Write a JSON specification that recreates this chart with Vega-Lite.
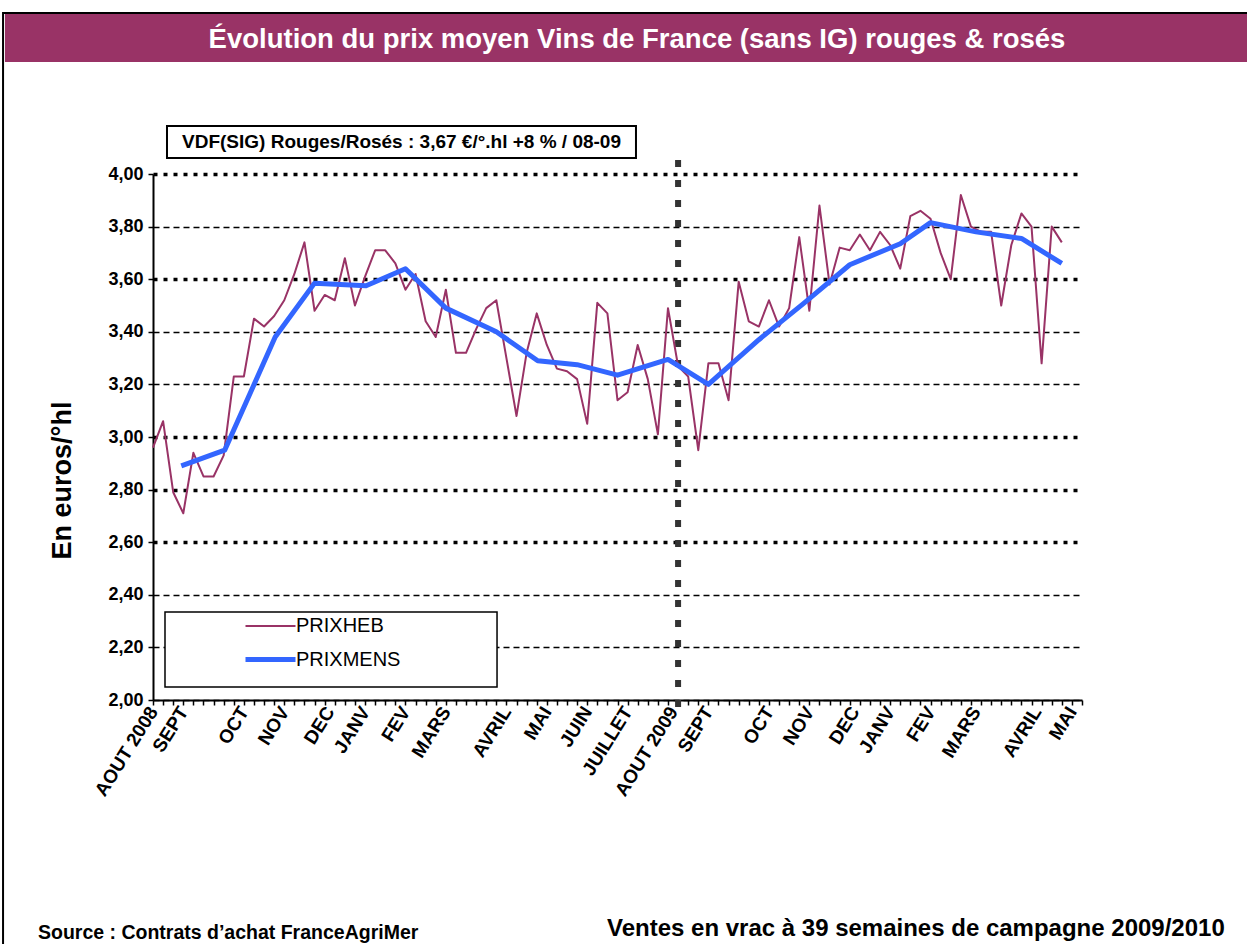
{
  "$schema": "https://vega.github.io/schema/vega-lite/v6.json",
  "width": 929,
  "height": 526,
  "autosize": {"type": "none"},
  "padding": {"left": 153, "top": 174, "right": 165, "bottom": 244},
  "background": "white",
  "config": {"view": {"stroke": null}, "font": "Liberation Sans"},
  "datasets": {
    "prix": [
      {"week": 0, "value": 2.96, "series": "PRIXHEB"},
      {"week": 1, "value": 3.06, "series": "PRIXHEB"},
      {"week": 2, "value": 2.79, "series": "PRIXHEB"},
      {"week": 3, "value": 2.71, "series": "PRIXHEB"},
      {"week": 4, "value": 2.94, "series": "PRIXHEB"},
      {"week": 5, "value": 2.85, "series": "PRIXHEB"},
      {"week": 6, "value": 2.85, "series": "PRIXHEB"},
      {"week": 7, "value": 2.93, "series": "PRIXHEB"},
      {"week": 8, "value": 3.23, "series": "PRIXHEB"},
      {"week": 9, "value": 3.23, "series": "PRIXHEB"},
      {"week": 10, "value": 3.45, "series": "PRIXHEB"},
      {"week": 11, "value": 3.42, "series": "PRIXHEB"},
      {"week": 12, "value": 3.46, "series": "PRIXHEB"},
      {"week": 13, "value": 3.52, "series": "PRIXHEB"},
      {"week": 14, "value": 3.62, "series": "PRIXHEB"},
      {"week": 15, "value": 3.74, "series": "PRIXHEB"},
      {"week": 16, "value": 3.48, "series": "PRIXHEB"},
      {"week": 17, "value": 3.54, "series": "PRIXHEB"},
      {"week": 18, "value": 3.52, "series": "PRIXHEB"},
      {"week": 19, "value": 3.68, "series": "PRIXHEB"},
      {"week": 20, "value": 3.50, "series": "PRIXHEB"},
      {"week": 21, "value": 3.61, "series": "PRIXHEB"},
      {"week": 22, "value": 3.71, "series": "PRIXHEB"},
      {"week": 23, "value": 3.71, "series": "PRIXHEB"},
      {"week": 24, "value": 3.66, "series": "PRIXHEB"},
      {"week": 25, "value": 3.56, "series": "PRIXHEB"},
      {"week": 26, "value": 3.62, "series": "PRIXHEB"},
      {"week": 27, "value": 3.44, "series": "PRIXHEB"},
      {"week": 28, "value": 3.38, "series": "PRIXHEB"},
      {"week": 29, "value": 3.56, "series": "PRIXHEB"},
      {"week": 30, "value": 3.32, "series": "PRIXHEB"},
      {"week": 31, "value": 3.32, "series": "PRIXHEB"},
      {"week": 32, "value": 3.41, "series": "PRIXHEB"},
      {"week": 33, "value": 3.49, "series": "PRIXHEB"},
      {"week": 34, "value": 3.52, "series": "PRIXHEB"},
      {"week": 35, "value": 3.30, "series": "PRIXHEB"},
      {"week": 36, "value": 3.08, "series": "PRIXHEB"},
      {"week": 37, "value": 3.32, "series": "PRIXHEB"},
      {"week": 38, "value": 3.47, "series": "PRIXHEB"},
      {"week": 39, "value": 3.35, "series": "PRIXHEB"},
      {"week": 40, "value": 3.26, "series": "PRIXHEB"},
      {"week": 41, "value": 3.25, "series": "PRIXHEB"},
      {"week": 42, "value": 3.22, "series": "PRIXHEB"},
      {"week": 43, "value": 3.05, "series": "PRIXHEB"},
      {"week": 44, "value": 3.51, "series": "PRIXHEB"},
      {"week": 45, "value": 3.47, "series": "PRIXHEB"},
      {"week": 46, "value": 3.14, "series": "PRIXHEB"},
      {"week": 47, "value": 3.17, "series": "PRIXHEB"},
      {"week": 48, "value": 3.35, "series": "PRIXHEB"},
      {"week": 49, "value": 3.22, "series": "PRIXHEB"},
      {"week": 50, "value": 3.01, "series": "PRIXHEB"},
      {"week": 51, "value": 3.49, "series": "PRIXHEB"},
      {"week": 52, "value": 3.27, "series": "PRIXHEB"},
      {"week": 53, "value": 3.23, "series": "PRIXHEB"},
      {"week": 54, "value": 2.95, "series": "PRIXHEB"},
      {"week": 55, "value": 3.28, "series": "PRIXHEB"},
      {"week": 56, "value": 3.28, "series": "PRIXHEB"},
      {"week": 57, "value": 3.14, "series": "PRIXHEB"},
      {"week": 58, "value": 3.59, "series": "PRIXHEB"},
      {"week": 59, "value": 3.44, "series": "PRIXHEB"},
      {"week": 60, "value": 3.42, "series": "PRIXHEB"},
      {"week": 61, "value": 3.52, "series": "PRIXHEB"},
      {"week": 62, "value": 3.42, "series": "PRIXHEB"},
      {"week": 63, "value": 3.49, "series": "PRIXHEB"},
      {"week": 64, "value": 3.76, "series": "PRIXHEB"},
      {"week": 65, "value": 3.48, "series": "PRIXHEB"},
      {"week": 66, "value": 3.88, "series": "PRIXHEB"},
      {"week": 67, "value": 3.58, "series": "PRIXHEB"},
      {"week": 68, "value": 3.72, "series": "PRIXHEB"},
      {"week": 69, "value": 3.71, "series": "PRIXHEB"},
      {"week": 70, "value": 3.77, "series": "PRIXHEB"},
      {"week": 71, "value": 3.71, "series": "PRIXHEB"},
      {"week": 72, "value": 3.78, "series": "PRIXHEB"},
      {"week": 73, "value": 3.73, "series": "PRIXHEB"},
      {"week": 74, "value": 3.64, "series": "PRIXHEB"},
      {"week": 75, "value": 3.84, "series": "PRIXHEB"},
      {"week": 76, "value": 3.86, "series": "PRIXHEB"},
      {"week": 77, "value": 3.83, "series": "PRIXHEB"},
      {"week": 78, "value": 3.70, "series": "PRIXHEB"},
      {"week": 79, "value": 3.60, "series": "PRIXHEB"},
      {"week": 80, "value": 3.92, "series": "PRIXHEB"},
      {"week": 81, "value": 3.80, "series": "PRIXHEB"},
      {"week": 82, "value": 3.78, "series": "PRIXHEB"},
      {"week": 83, "value": 3.78, "series": "PRIXHEB"},
      {"week": 84, "value": 3.50, "series": "PRIXHEB"},
      {"week": 85, "value": 3.73, "series": "PRIXHEB"},
      {"week": 86, "value": 3.85, "series": "PRIXHEB"},
      {"week": 87, "value": 3.80, "series": "PRIXHEB"},
      {"week": 88, "value": 3.28, "series": "PRIXHEB"},
      {"week": 89, "value": 3.80, "series": "PRIXHEB"},
      {"week": 90, "value": 3.74, "series": "PRIXHEB"},
      {"week": 2.8, "value": 2.89, "series": "PRIXMENS"},
      {"week": 7.1, "value": 2.95, "series": "PRIXMENS"},
      {"week": 12.1, "value": 3.38, "series": "PRIXMENS"},
      {"week": 16, "value": 3.585, "series": "PRIXMENS"},
      {"week": 21.1, "value": 3.575, "series": "PRIXMENS"},
      {"week": 25, "value": 3.64, "series": "PRIXMENS"},
      {"week": 29, "value": 3.49, "series": "PRIXMENS"},
      {"week": 34, "value": 3.40, "series": "PRIXMENS"},
      {"week": 38.1, "value": 3.29, "series": "PRIXMENS"},
      {"week": 42, "value": 3.275, "series": "PRIXMENS"},
      {"week": 46, "value": 3.235, "series": "PRIXMENS"},
      {"week": 51, "value": 3.295, "series": "PRIXMENS"},
      {"week": 55, "value": 3.20, "series": "PRIXMENS"},
      {"week": 60, "value": 3.37, "series": "PRIXMENS"},
      {"week": 64.5, "value": 3.51, "series": "PRIXMENS"},
      {"week": 69, "value": 3.655, "series": "PRIXMENS"},
      {"week": 74, "value": 3.735, "series": "PRIXMENS"},
      {"week": 77, "value": 3.815, "series": "PRIXMENS"},
      {"week": 81.5, "value": 3.78, "series": "PRIXMENS"},
      {"week": 86, "value": 3.755, "series": "PRIXMENS"},
      {"week": 90, "value": 3.66, "series": "PRIXMENS"}
    ]
  },
  "layer": [
    {
      "data": {"values": [{}]},
      "mark": {"type": "rect", "fill": null, "stroke": "black", "strokeWidth": 2},
      "encoding": {
        "x": {"datum": -14.85, "type": "quantitative", "scale": {"domain": [0, 92], "nice": false, "zero": false}},
        "x2": {"datum": 109},
        "y": {"datum": 4.612, "type": "quantitative", "scale": {"domain": [2, 4], "nice": false, "zero": false}},
        "y2": {"datum": 0.85}
      }
    },
    {
      "data": {"values": [{}]},
      "mark": {"type": "rect", "fill": "#993366", "stroke": null},
      "encoding": {
        "x": {"datum": -14.66, "type": "quantitative", "scale": {"domain": [0, 92], "nice": false, "zero": false}},
        "x2": {"datum": 108.6},
        "y": {"datum": 4.6084, "type": "quantitative", "scale": {"domain": [2, 4], "nice": false, "zero": false}},
        "y2": {"datum": 4.4259}
      }
    },
    {
      "data": {"values": [{}]},
      "mark": {"type": "text", "text": "Évolution du prix moyen Vins de France (sans IG) rouges & rosés", "font": "Liberation Sans", "fontSize": 27.5, "fontWeight": "bold", "color": "white", "align": "center", "baseline": "middle"},
      "encoding": {
        "x": {"datum": 47.93, "type": "quantitative", "scale": {"domain": [0, 92], "nice": false, "zero": false}},
        "y": {"datum": 4.5095, "type": "quantitative", "scale": {"domain": [2, 4], "nice": false, "zero": false}}
      }
    },
    {
      "data": {"values": [{}]},
      "mark": {"type": "rect", "fill": "white", "stroke": "black", "strokeWidth": 2},
      "encoding": {
        "x": {"datum": 1.386, "type": "quantitative", "scale": {"domain": [0, 92], "nice": false, "zero": false}},
        "x2": {"datum": 47.83},
        "y": {"datum": 4.1825, "type": "quantitative", "scale": {"domain": [2, 4], "nice": false, "zero": false}},
        "y2": {"datum": 4.0608}
      }
    },
    {
      "data": {"values": [{}]},
      "mark": {"type": "text", "text": "VDF(SIG) Rouges/Rosés : 3,67 €/°.hl +8 % / 08-09", "font": "Liberation Sans", "fontSize": 19, "fontWeight": "bold", "color": "black", "align": "center", "baseline": "middle"},
      "encoding": {
        "x": {"datum": 24.61, "type": "quantitative", "scale": {"domain": [0, 92], "nice": false, "zero": false}},
        "y": {"datum": 4.1217, "type": "quantitative", "scale": {"domain": [2, 4], "nice": false, "zero": false}}
      }
    },
    {
      "data": {"values": [{}]},
      "mark": {"type": "rect", "fill": "white", "stroke": "black", "strokeWidth": 1.5},
      "encoding": {
        "x": {"datum": 1.188, "type": "quantitative", "scale": {"domain": [0, 92], "nice": false, "zero": false}},
        "x2": {"datum": 34.07},
        "y": {"datum": 2.3346, "type": "quantitative", "scale": {"domain": [2, 4], "nice": false, "zero": false}},
        "y2": {"datum": 2.0494}
      }
    },
    {
      "data": {"values": [{}]},
      "mark": {"type": "rule", "color": "#333333", "strokeWidth": 6, "strokeDash": [7, 13]},
      "encoding": {
        "x": {"datum": 52, "type": "quantitative", "scale": {"domain": [0, 92], "nice": false, "zero": false}},
        "y": {"datum": 4.053, "type": "quantitative", "scale": {"domain": [2, 4], "nice": false, "zero": false}},
        "y2": {"datum": 1.932}
      }
    },
    {
      "data": {"name": "prix"},
      "mark": {"type": "line", "strokeJoin": "round"},
      "encoding": {
        "x": {
          "field": "week", "type": "quantitative",
          "scale": {"domain": [0, 92], "nice": false, "zero": false},
          "axis": {
            "title": null,
            "grid": false,
            "tickCount": 500,
            "values": [0,1,2,3,4,5,6,7,8,9,10,11,12,13,14,15,16,17,17.5,18,19,20,21,22,23,24,25,26,27,28,29,30,31,32,33,34,35,36,37,38,39,40,41,42,43,44,45,46,47,48,49,50,51,51.5,52,53,54,55,56,57,58,59,60,61,62,63,64,65,66,67,68,69,69.5,70,71,72,73,74,75,76,77,78,79,80,81,81.5,82,83,84,85,86,87,87.5,88,89,90,91,92],
            "labelExpr": "indexof([0,3,9,13,17.5,21,25,29,35,39,43,47,51.5,55,61,65,69.5,73,77,81.5,87.5,91], datum.value) >= 0 ? ['AOUT 2008','SEPT','OCT','NOV','DEC','JANV','FEV','MARS','AVRIL','MAI','JUIN','JUILLET','AOUT 2009','SEPT','OCT','NOV','DEC','JANV','FEV','MARS','AVRIL','MAI'][indexof([0,3,9,13,17.5,21,25,29,35,39,43,47,51.5,55,61,65,69.5,73,77,81.5,87.5,91], datum.value)] : ''",
            "labelAngle": -58,
            "labelFont": "Liberation Sans",
            "labelFontSize": 19,
            "labelFontWeight": "bold",
            "labelColor": "black",
            "labelOverlap": false,
            "labelFlush": false,
            "labelBound": false,
            "labelPadding": 3,
            "tickSize": 5,
            "tickWidth": 1.5,
            "tickColor": "black",
            "tickOpacity": {"condition": {"test": "datum.value % 1 != 0", "value": 0}, "value": 1},
            "domainColor": "black",
            "domainWidth": 2
          }
        },
        "y": {
          "field": "value", "type": "quantitative",
          "scale": {"domain": [2, 4], "nice": false, "zero": false},
          "axis": {
            "title": "En euros/°hl",
            "titleFont": "Liberation Sans",
            "titleFontSize": 27,
            "titleFontWeight": "bold",
            "titleColor": "black",
            "titleAngle": -90,
            "titleX": -91,
            "titleY": 306,
            "titleAlign": "center",
            "titleBaseline": "middle",
            "tickCount": 50,
            "values": [2, 2.2, 2.4, 2.6, 2.8, 3, 3.2, 3.4, 3.6, 3.8, 4],
            "labelExpr": "replace(format(datum.value, '.2f'), '.', ',')",
            "labelFont": "Liberation Sans",
            "labelFontSize": 18,
            "labelFontWeight": "bold",
            "labelColor": "black",
            "labelPadding": 5,
            "tickSize": 5,
            "tickWidth": 1.5,
            "tickColor": "black",
            "domainColor": "black",
            "domainWidth": 2,
            "grid": true,
            "gridColor": "black",
            "gridOpacity": 1,
            "gridDash": {"condition": {"test": "abs(datum.value-4)<0.01 || abs(datum.value-3.6)<0.01 || abs(datum.value-3)<0.01 || abs(datum.value-2.8)<0.01 || abs(datum.value-2.6)<0.01", "value": [4, 6]}, "value": [6, 4]},
            "gridWidth": {"condition": {"test": "abs(datum.value-4)<0.01 || abs(datum.value-3.6)<0.01 || abs(datum.value-3)<0.01 || abs(datum.value-2.8)<0.01 || abs(datum.value-2.6)<0.01", "value": 3.5}, "value": 1.5}
          }
        },
        "color": {
          "field": "series", "type": "nominal",
          "scale": {"domain": ["PRIXHEB", "PRIXMENS"], "range": ["#993366", "#3366FF"]},
          "legend": {
            "orient": "none", "legendX": 100, "legendY": 436, "title": null,
            "symbolType": "M-1.667,0H1.667", "symbolSize": 900,
            "labelFont": "Liberation Sans", "labelFontSize": 20, "labelColor": "black",
            "labelOffset": 8, "rowPadding": 6, "padding": 0
          }
        },
        "strokeWidth": {
          "field": "series", "type": "nominal",
          "scale": {"domain": ["PRIXHEB", "PRIXMENS"], "range": [2, 5]},
          "legend": {
            "orient": "none", "legendX": 100, "legendY": 436, "title": null,
            "symbolType": "M-1.667,0H1.667", "symbolSize": 900,
            "labelFont": "Liberation Sans", "labelFontSize": 20, "labelColor": "black",
            "labelOffset": 8, "rowPadding": 6, "padding": 0
          }
        }
      }
    },
    {
      "data": {"values": [{}]},
      "mark": {"type": "text", "text": "Source : Contrats d’achat FranceAgriMer", "font": "Liberation Sans", "fontSize": 19.5, "fontWeight": "bold", "color": "black", "align": "left", "baseline": "middle"},
      "encoding": {
        "x": {"datum": -11.39, "type": "quantitative", "scale": {"domain": [0, 92], "nice": false, "zero": false}},
        "y": {"datum": 1.114, "type": "quantitative", "scale": {"domain": [2, 4], "nice": false, "zero": false}}
      }
    },
    {
      "data": {"values": [{}]},
      "mark": {"type": "text", "text": "Ventes en vrac à 39 semaines de campagne 2009/2010", "font": "Liberation Sans", "fontSize": 24, "fontWeight": "bold", "color": "black", "align": "left", "baseline": "middle"},
      "encoding": {
        "x": {"datum": 44.96, "type": "quantitative", "scale": {"domain": [0, 92], "nice": false, "zero": false}},
        "y": {"datum": 1.129, "type": "quantitative", "scale": {"domain": [2, 4], "nice": false, "zero": false}}
      }
    }
  ]
}
